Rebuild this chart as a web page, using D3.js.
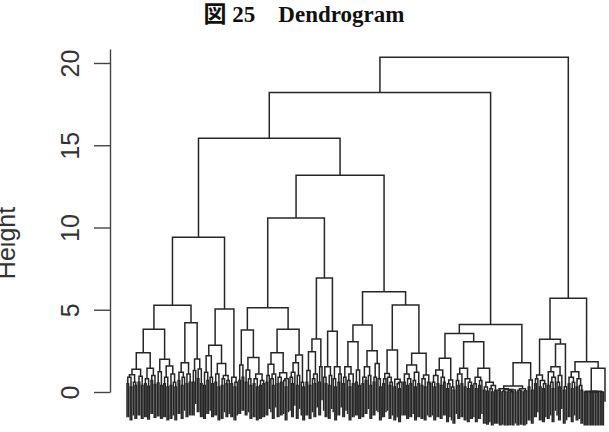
<!DOCTYPE html>
<html>
<head>
<meta charset="utf-8">
<script src="https://cdnjs.cloudflare.com/ajax/libs/d3/7.8.5/d3.min.js"></script>
<style>
body { margin: 0; background: #fff; }
</style>
</head>
<body>
<div id="chart"></div>
<script>
// merge height between each pair of neighbouring leaves, left to right
var clusterE = [0.5, 0.9, 0.3, 1.05, 0.6, 0.4, 1.38, 0.6, 0.95, 0.4, 2.39, 0.5, 0.8, 0.35, 1.44,
    0.7, 1.0, 0.45, 3.81, 0.55, 1.23, 0.4, 1.99, 0.5, 0.9, 0.3, 1.58, 0.4, 1.1, 0.6, 0.3, 5.27,
    0.7, 1.2, 0.4, 0.9, 1.78, 0.5, 1.1, 0.6, 4.21, 0.6, 1.3, 2.0, 0.8, 1.4, 0.5, 9.4,
    0.4, 1.2, 0.7, 2.2, 0.9, 0.5, 2.84, 0.6, 1.1, 0.3, 1.74, 0.4, 0.8, 1.0, 0.5, 0.7, 5.05,
    0.5, 0.9, 0.3, 0.6];
var clusterH = [0.7, 1.64, 0.9, 3.77, 0.6, 1.34, 0.8, 0.4, 2.09, 0.5, 0.8, 0.3, 1.09, 0.4, 0.7, 0.5, 5.12,
    0.6, 1.0, 1.68, 0.8, 0.4, 1.1, 2.39, 0.5, 0.9, 0.6, 1.17, 0.7, 0.3, 0.8, 3.81,
    0.9, 0.5, 1.2, 1.78, 0.4, 1.0, 2.25, 0.6, 0.3];
var clusterI = [0.6, 1.3, 0.4, 2.45, 0.8, 0.5, 1.1, 3.22, 0.6, 1.54, 6.93,
    0.9, 0.5, 1.54, 0.4, 1.0, 3.7, 0.8, 0.3, 1.54, 0.6, 1.1];
var clusterG = [0.5, 0.9, 1.54, 0.7, 0.3, 1.1, 0.5, 3.06, 0.6, 1.34, 0.4, 4.07,
    0.5, 0.9, 0.7, 1.54, 1.0, 0.4, 2.51, 0.6, 0.9, 1.74, 0.8, 0.3, 6.1,
    0.5, 0.8, 1.13, 0.9, 0.4, 0.6, 2.55, 0.3, 0.77, 0.5, 0.2, 0.6, 5.29,
    0.6, 1.1, 0.4, 0.8, 0.5, 1.64, 0.7, 0.3, 1.2, 0.5, 2.35, 0.4, 0.8, 0.3, 1.03, 0.6, 0.5];
var clusterF = [0.6, 0.3, 1.0, 0.5, 1.34, 0.4, 0.9, 0.6, 2.05, 0.2, 0.5, 0.73, 0.3, 0.1, 3.56,
    0.7, 0.4, 1.1, 0.5, 1.44, 0.3, 0.8, 0.2, 0.6, 0.4, 3.06, 0.5, 0.2, 0.9, 0.4, 0.7, 1.44,
    0.1, 0.3, 0.05, 0.6, 0.2, 0, 0.4, 0.1, 4.1,
    0.1, 0, 0.2, 0.05, 0, 0.15, 0, 0.1, 0.02, 0, 0.12, 0.36, 0, 0.1, 0.05, 0.2, 0, 0.08, 1.78,
    0.3, 0.73, 0.1];
var clusterR = [0.5, 0.8, 1.03, 0.3, 0.7, 0.2, 0.5, 3.2, 0.4, 1.23, 0.6, 0.2, 0.9, 1.54,
    0.6, 0.3, 1.0, 2.92, 0.1, 0.32, 5.7, 0.5, 0.9, 0.2, 0.6, 1.23, 0.3, 0.8, 0.4, 0.1, 1.84,
    0, 0, 0.05, 0, 0, 0.02, 0, 0, 0, 0.04, 0, 0, 1.44];
// heights joining the clusters above, in order E|H, H|I, I|G, G|F, F|R
var joinHeights = [15.43, 10.58, 13.18, 18.2, 20.35];
var yTicks = [0, 5, 10, 15, 20];

var width = 609, height = 432;

var svg = d3.select("#chart")
    .append("svg")
    .attr("width", width)
    .attr("height", height);

svg.append("rect").attr("width", width).attr("height", height).attr("fill", "#fff");

var clusters = [clusterE, clusterH, clusterI, clusterG, clusterF, clusterR];
var gaps = [];
clusters.forEach(function (c, i) {
    gaps = gaps.concat(c);
    if (i < joinHeights.length) gaps.push(joinHeights[i]);
});
var nLeaves = gaps.length + 1;

var x = d3.scaleLinear().domain([0, nLeaves - 1]).range([127, 605]);
var y = d3.scaleLinear().domain([0, 20.85]).range([392, 49]);
var hang = 0.1 * (d3.max(gaps) - d3.min(gaps));

// split at the highest neighbour gap, recursively (same as hclust order)
function build(lo, hi) {
    if (lo === hi) return { leaf: true, x: x(lo) };
    var k = lo;
    for (var i = lo; i < hi; i++) if (gaps[i] > gaps[k]) k = i;
    var left = build(lo, k), right = build(k + 1, hi);
    return { h: gaps[k], left: left, right: right, x: (left.x + right.x) / 2 };
}
var root = build(0, nLeaves - 1);

var nodes = [];
(function walk(n) {
    if (n.leaf) return;
    nodes.push(n);
    walk(n.left);
    walk(n.right);
})(root);

svg.selectAll("path.link")
    .data(nodes)
    .enter()
    .append("path")
    .attr("class", "link")
    .attr("d", function (d) {
        var yl = d.left.leaf ? y(d.h - hang) : y(d.left.h);
        var yr = d.right.leaf ? y(d.h - hang) : y(d.right.h);
        return "M" + d.left.x + "," + yl + "V" + y(d.h) + "H" + d.right.x + "V" + yr;
    })
    .attr("fill", "none")
    .attr("stroke", "#262626")
    .attr("stroke-width", 1.5);

var yAxis = svg.append("g")
    .attr("transform", "translate(110,0)")
    .call(d3.axisLeft(y).tickValues(yTicks).tickSize(16).tickSizeOuter(0));
yAxis.select(".domain").attr("stroke", "#444").attr("stroke-width", 1.4);
yAxis.selectAll(".tick line").attr("stroke", "#444").attr("stroke-width", 1.4);
yAxis.selectAll(".tick text")
    .attr("x", null)
    .attr("dy", null)
    .attr("transform", "translate(-31,0) rotate(-90)")
    .attr("text-anchor", "middle")
    .attr("fill", "#333")
    .style("font-family", "'Liberation Sans', Arial, sans-serif")
    .style("font-size", "25px");

svg.append("text")
    .attr("transform", "translate(15,243) rotate(-90)")
    .attr("text-anchor", "middle")
    .attr("fill", "#333")
    .style("font-family", "'Liberation Sans', Arial, sans-serif")
    .style("font-size", "25px")
    .text("Height");

svg.append("text")
    .attr("x", 304)
    .attr("y", 22)
    .attr("text-anchor", "middle")
    .attr("fill", "#111")
    .style("font-family", "'Liberation Serif', 'Times New Roman', 'Noto Sans CJK JP', serif")
    .style("font-weight", "bold")
    .style("font-size", "23px")
    .text("図 25\u3000Dendrogram");
</script>
</body>
</html>
